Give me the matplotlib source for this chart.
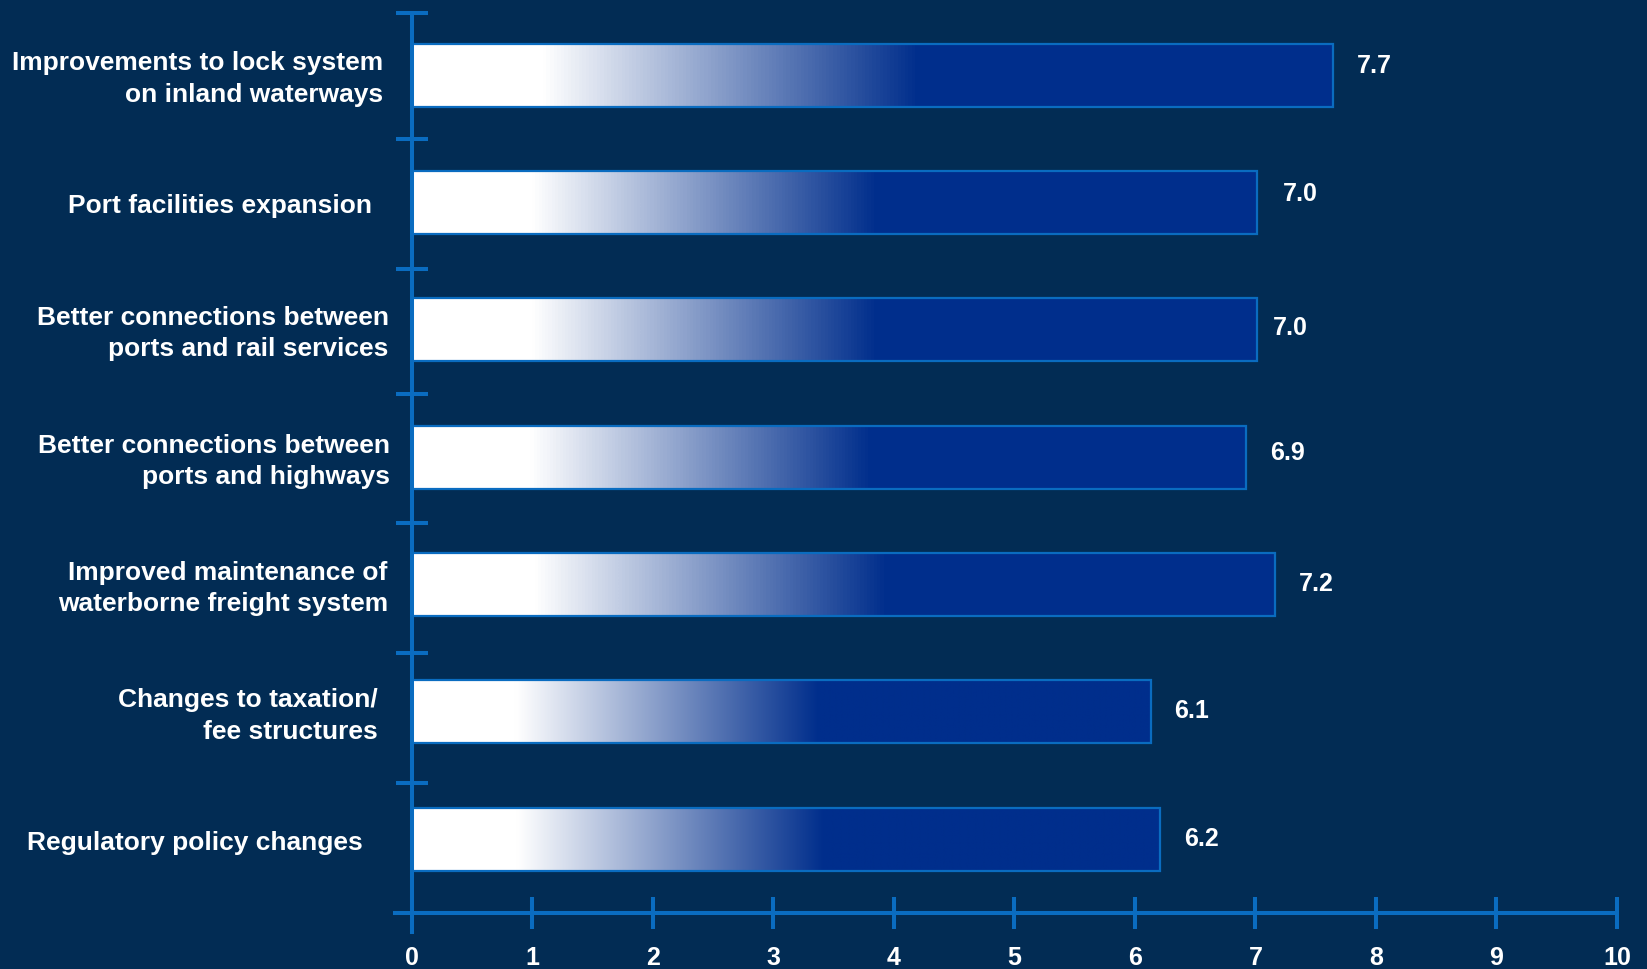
import matplotlib
matplotlib.use("Agg")
import matplotlib.pyplot as plt
import numpy as np
from matplotlib.colors import LinearSegmentedColormap
from matplotlib.transforms import offset_copy

categories = [
    "Improvements to lock system\non inland waterways",
    "Port facilities expansion",
    "Better connections between\nports and rail services",
    "Better connections between\nports and highways",
    "Improved maintenance of\nwaterborne freight system",
    "Changes to taxation/\nfee structures",
    "Regulatory policy changes",
]
# bar lengths as drawn, and the printed labels
values = [7.64, 7.01, 7.01, 6.92, 7.16, 6.13, 6.21]
value_labels = ["7.7", "7.0", "7.0", "6.9", "7.2", "6.1", "6.2"]
xticks = list(range(0, 11))

# styling
bg = "#022c54"
axis_col = "#0a6cc0"
dark = "#002e8c"
label_dx = [-29, -40, -23, -22, -24, -34, -49]   # px, right edge of category labels
value_dx = [24, 26, 16, 24, 24, 24, 24]           # px, gap after bar end
value_dy = [9, 8, 2, 4, 1, 1, 0]                  # px, value labels nudge up

plt.rcParams["font.family"] = ["Liberation Sans", "DejaVu Sans"]
plt.rcParams["font.weight"] = "bold"

fig = plt.figure(figsize=(16.47, 9.69), dpi=100, facecolor=bg)
ax = fig.add_axes([395 / 1647, 1 - 932 / 969, (1617 - 395) / 1647, (932 - 12.7) / 969])
ax.set_facecolor(bg)

cmap = LinearSegmentedColormap.from_list(
    "fade", [(0, "white"), (0.14, "white"), (0.55, dark), (1, dark)])
grad = np.linspace(0, 1, 256).reshape(1, -1)

n = len(categories)
ypos = np.arange(n)[::-1]
h = 0.495
for y, v in zip(ypos, values):
    ax.imshow(grad, cmap=cmap, aspect="auto", extent=(0, v, y - h / 2, y + h / 2),
              interpolation="bilinear", zorder=2)
ax.barh(ypos, values, height=h, fill=False, edgecolor=axis_col, linewidth=1.6, zorder=3)

for i, (y, v) in enumerate(zip(ypos, values)):
    tr = offset_copy(ax.transData, fig=fig, x=value_dx[i], y=value_dy[i], units="dots")
    ax.text(v, y, value_labels[i], transform=tr, ha="left", va="center",
            color="white", fontsize=18, fontweight="bold")
    tr2 = offset_copy(ax.transData, fig=fig, x=label_dx[i], y=-4, units="dots")
    ax.text(0, y, categories[i], transform=tr2, ha="right", va="center",
            color="white", fontsize=19, fontweight="bold", linespacing=1.38)

ax.set_xlim(-0.14, 10)
ax.set_ylim(-0.728, 6.49)

for s in ["top", "right"]:
    ax.spines[s].set_visible(False)
ax.spines["left"].set_position(("data", 0))
ax.spines["bottom"].set_position(("data", -0.581))
ax.spines["bottom"].set_bounds(-0.14, 10)
for s in ["left", "bottom"]:
    ax.spines[s].set_color(axis_col)
    ax.spines[s].set_linewidth(2.9)
    ax.spines[s].set_zorder(4)

ax.set_xticks(xticks)
ax.set_xticklabels([str(t) for t in xticks])
ax.set_yticks([6.49, 5.5, 4.48, 3.5, 2.48, 1.46, 0.44])
ax.set_yticklabels([])
ax.tick_params(axis="both", direction="inout", length=23, width=2.9, color=axis_col)
ax.tick_params(axis="x", labelsize=18, labelcolor="white", pad=12)
for lab in ax.get_xticklabels():
    lab.set_fontweight("bold")

fig.savefig("out.png", dpi=100, facecolor=bg)
